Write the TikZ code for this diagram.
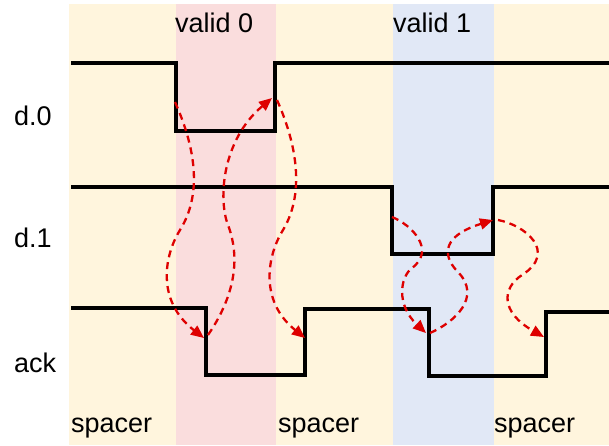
\documentclass[tikz,border=0pt]{standalone}
\usepackage{fontspec}
\setmainfont{Liberation Sans}
\usetikzlibrary{arrows.meta}
\definecolor{cSpacer}{RGB}{255,245,221}
\definecolor{cValidA}{RGB}{250,221,221}
\definecolor{cValidB}{RGB}{225,232,246}
\definecolor{cCue}{RGB}{222,0,0}
\tikzset{
	wave/.style={line width=3.4pt, line join=miter, black},
	cue/.style={-{Triangle[length=13pt, width=11pt]}, cCue, line width=2.3pt, dash pattern=on 7pt off 5pt},
	lbl/.style={inner sep=0pt, anchor=base west, font=\fontsize{27}{32}\selectfont},
}
\newcommand{\phaseband}[3]{%
	\fill[#3] (#1,4) rectangle (#2,445);}

\begin{document}
\begin{tikzpicture}[x=1pt, y=-1pt]
	\useasboundingbox (0,0) rectangle (609,445);
	% ---------- phases ----------
	\phaseband{69}{609}{cSpacer}
	\phaseband{176}{276}{cValidA}
	\phaseband{393}{494}{cValidB}
	\node[lbl] (valid0) at (175,32) {valid 0};
	\node[lbl] (valid1) at (393,32) {valid 1};
	\node[lbl] (spacer0) at (71,432) {spacer};
	\node[lbl] (spacer1) at (278,432) {spacer};
	\node[lbl] (spacer2) at (494,432) {spacer};
	% ---------- signal names ----------
	\node[lbl] (sigd0) at (14,125) {d.0};
	\node[lbl] (sigd1) at (14,247) {d.1};
	\node[lbl] (sigack) at (14,372) {ack};
	% ---------- waveforms ----------
	\draw[wave] (71,63) -- (176,63) -- (176,131) -- (275,131) -- (275,63) -- (609,63);
	\draw[wave] (71,187) -- (392,187) -- (392,254) -- (493,254) -- (493,187) -- (609,187);
	\draw[wave] (71,308) -- (206,308) -- (206,375) -- (305,375) -- (305,309) -- (429,309)
		-- (429,376) -- (546,376) -- (546,312) -- (609,312);
	% ---------- handshake edges ----------
	\coordinate (d0fall) at (175,102);
	\coordinate (d0rise) at (272,98);
	\coordinate (d0riseout) at (277,100);
	\coordinate (d1fall) at (392,217);
	\coordinate (d1rise) at (493,220);
	\coordinate (d1riseout) at (498,220);
	\coordinate (ackfallA) at (204,338);
	\coordinate (ackfallAout) at (208,335);
	\coordinate (ackriseA) at (305,338);
	\coordinate (ackfallB) at (426,333);
	\coordinate (ackfallBout) at (430,333);
	\coordinate (ackriseB) at (544,337);
	% valid 0
	\draw[cue] (d0fall) .. controls (192,140) and (205,190) .. (180,230)
		.. controls (165,254) and (155,300) .. (ackfallA);
	\draw[cue] (ackfallAout) .. controls (232,300) and (242,262) .. (228,225)
		.. controls (218,199) and (222,140) .. (d0rise);
	\draw[cue] (d0riseout) .. controls (294,138) and (307,190) .. (283,230)
		.. controls (268,254) and (258,300) .. (ackriseA);
	% valid 1
	\draw[cue] (d1fall) .. controls (412,225) and (436,250) .. (412,268)
		.. controls (400,277) and (396,305) .. (ackfallB);
	\draw[cue] (ackfallBout) .. controls (455,322) and (482,297) .. (458,272)
		.. controls (446,260) and (436,238) .. (d1rise);
	\draw[cue] (d1riseout) .. controls (525,225) and (558,252) .. (522,275)
		.. controls (502,288) and (500,312) .. (ackriseB);
\end{tikzpicture}
\end{document}
